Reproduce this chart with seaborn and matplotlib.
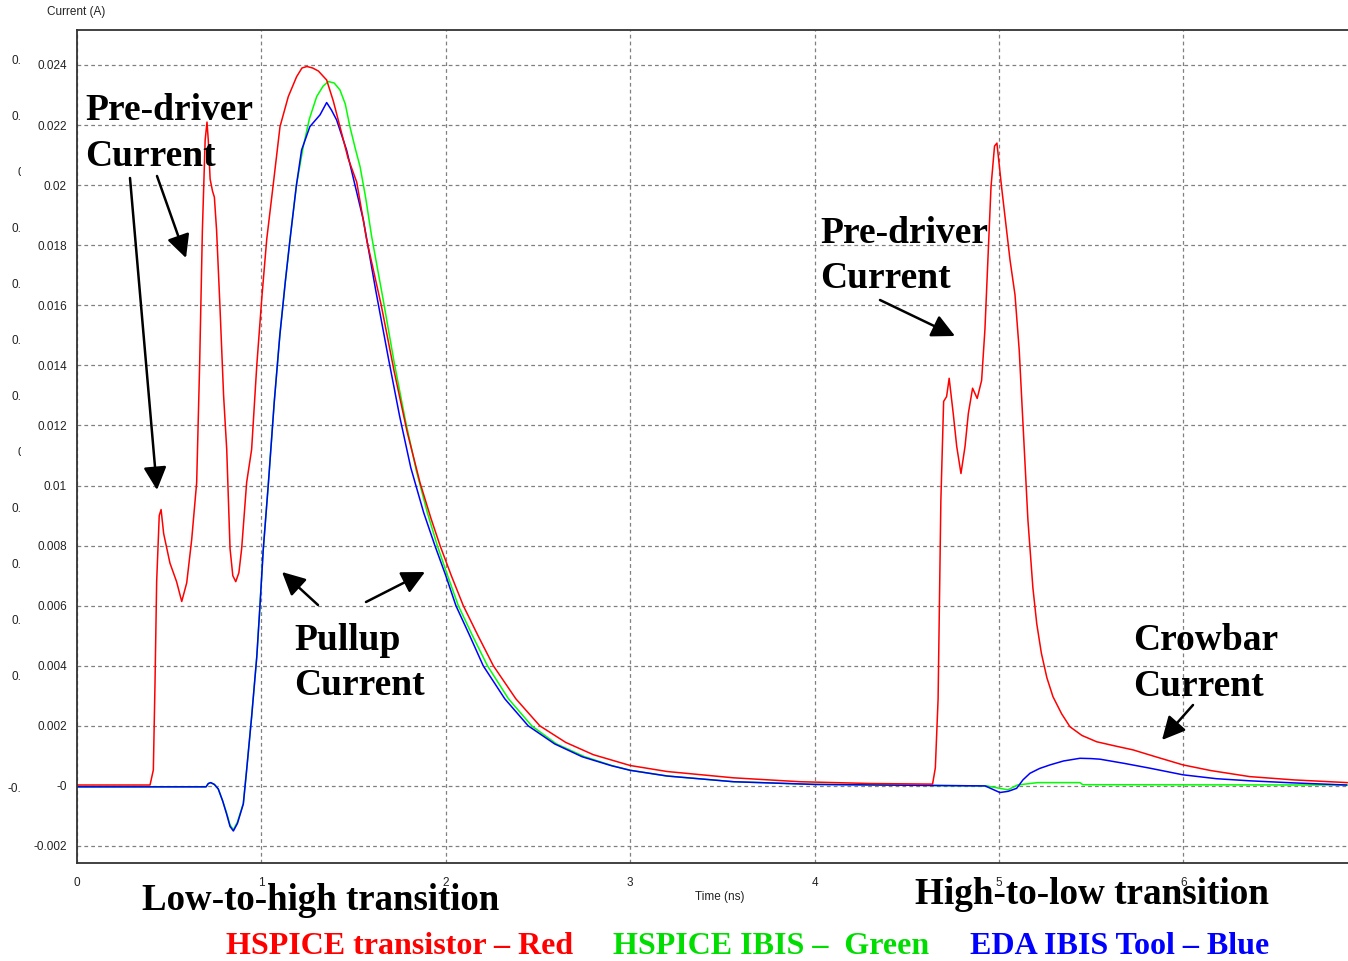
import matplotlib
matplotlib.use("Agg")
import matplotlib.pyplot as plt
import seaborn as sns
from matplotlib.transforms import Bbox, TransformedBbox

# HSPICE transistor (red)
red_t = [0.0, 0.396, 0.414, 0.423, 0.432, 0.446, 0.456, 0.470, 0.504, 0.540, 0.568,
         0.595, 0.622, 0.649, 0.665, 0.680, 0.695, 0.705, 0.712, 0.722, 0.735, 0.745,
         0.757, 0.775, 0.795, 0.812, 0.830, 0.845, 0.861, 0.878, 0.893, 0.920, 0.947,
         0.975, 1.003, 1.029, 1.065, 1.101, 1.146, 1.191, 1.22, 1.247, 1.278, 1.309,
         1.354, 1.39, 1.426, 1.47, 1.517, 1.571, 1.65, 1.72, 1.79, 1.86, 1.92, 1.969,
         2.03, 2.095, 2.175, 2.258, 2.38, 2.51, 2.65, 2.8, 3.0, 3.2, 3.56, 3.92, 4.3,
         4.64, 4.655, 4.67, 4.685, 4.70, 4.716, 4.73,
         4.752, 4.771, 4.794, 4.816, 4.834, 4.857, 4.882, 4.906, 4.924, 4.957, 4.976,
         4.989, 5.014, 5.06, 5.087, 5.11, 5.135, 5.157, 5.184, 5.205, 5.23, 5.26, 5.293,
         5.34, 5.385, 5.45, 5.53, 5.63, 5.727, 5.85, 5.998, 6.15, 6.36, 6.6, 6.89]
red_i = [0.00003, 0.00003, 0.00053, 0.0034, 0.0068, 0.0090, 0.0092, 0.0084, 0.00742, 0.0068, 0.00614,
         0.00676, 0.0082, 0.0101, 0.0140, 0.0185, 0.0215, 0.0221, 0.0215, 0.0202, 0.0198, 0.0196,
         0.0185, 0.0160, 0.0130, 0.0112, 0.0079, 0.0070, 0.0068, 0.0071, 0.0079, 0.0101, 0.0112,
         0.0140, 0.0163, 0.0182, 0.02006, 0.02195, 0.02295, 0.02361, 0.0239, 0.02395, 0.0239, 0.0238,
         0.0235, 0.0228, 0.02195, 0.0209, 0.0201, 0.01818, 0.0160, 0.0138, 0.0118, 0.0101, 0.0089, 0.0080,
         0.0070, 0.0060, 0.0050, 0.0040, 0.0029, 0.0020, 0.00145, 0.00104, 0.00068, 0.00048, 0.00027, 0.00014, 0.00008,
         0.00006, 0.0006, 0.0029, 0.0095, 0.0128, 0.01296, 0.01357,
         0.0124, 0.0113, 0.0104, 0.0113, 0.0124, 0.01324, 0.0129, 0.0135, 0.0152, 0.01995, 0.0213,
         0.0214, 0.01995, 0.01751, 0.01635, 0.0145, 0.0115, 0.00886, 0.0066, 0.0054, 0.00442, 0.0036, 0.00297,
         0.0024, 0.00197, 0.00168, 0.00147, 0.00133, 0.0012, 0.00097, 0.0007, 0.00051, 0.00031, 0.0002, 0.00011]

# HSPICE IBIS (green)
green_t = [0.0, 0.70, 0.712, 0.725, 0.745, 0.766, 0.790, 0.812, 0.830, 0.848, 0.870, 0.902,
           0.920, 0.947, 0.975, 0.992, 1.01, 1.038, 1.07, 1.10, 1.13, 1.155, 1.19, 1.227, 1.26,
           1.30, 1.335, 1.363, 1.395, 1.426, 1.455, 1.48, 1.51, 1.535, 1.565, 1.598, 1.66,
           1.72, 1.78, 1.84, 1.90, 1.954, 2.01, 2.068, 2.145, 2.226, 2.34, 2.466, 2.6, 2.75,
           2.9, 3.0, 3.2, 3.56, 4.0, 4.933, 5.049, 5.10, 5.21, 5.439, 5.455, 6.89]
green_i = [-0.00003, -0.00003, 0.00008, 0.00011, 0.00005, -0.0001, -0.0005, -0.00091, -0.0013, -0.00146, -0.0012, -0.00058,
           0.00053, 0.0023, 0.0043, 0.00597, 0.00786, 0.01008, 0.0128, 0.0150, 0.0168, 0.01818, 0.0200, 0.02128, 0.0222,
           0.02295, 0.0233, 0.02345, 0.0234, 0.02317, 0.0227, 0.02195, 0.0212, 0.02062, 0.0196, 0.01829, 0.0162,
           0.0141, 0.0122, 0.0105, 0.0091, 0.0080, 0.0070, 0.0060, 0.0050, 0.0040, 0.0029, 0.0020, 0.0014, 0.00098,
           0.00068, 0.00052, 0.00033, 0.00014, 0.00005, 0.0, -0.00013, 0.00003, 0.00011, 0.00011, 0.00004, 0.00003]

# EDA IBIS tool (blue)
blue_t = [0.0, 0.70, 0.712, 0.725, 0.745, 0.766, 0.790, 0.812, 0.830, 0.848, 0.870, 0.902,
          0.920, 0.947, 0.975, 0.992, 1.01, 1.038, 1.07, 1.10, 1.13, 1.155, 1.19, 1.218, 1.263,
          1.318, 1.354, 1.380, 1.408, 1.462, 1.553, 1.62, 1.69, 1.75, 1.81, 1.88, 1.941,
          2.0, 2.055, 2.13, 2.203, 2.32, 2.447, 2.59, 2.74, 2.9, 3.0, 3.2, 3.56, 4.0,
          4.925, 5.005, 5.05, 5.096, 5.13, 5.168, 5.22, 5.277, 5.35, 5.439, 5.50, 5.548,
          5.68, 5.819, 5.998, 6.18, 6.36, 6.6, 6.886]
blue_i = [-0.00003, -0.00003, 0.00008, 0.00011, 0.00005, -0.0001, -0.0005, -0.00095, -0.00135, -0.0015, -0.00125, -0.0006,
          0.00053, 0.0023, 0.0043, 0.00597, 0.00786, 0.01008, 0.0128, 0.0150, 0.0168, 0.01818, 0.0200, 0.02117, 0.02195,
          0.02234, 0.02275, 0.0225, 0.02217, 0.02117, 0.01884, 0.0165, 0.0142, 0.0123, 0.0106, 0.0091, 0.0080,
          0.0070, 0.0060, 0.0050, 0.0040, 0.0029, 0.0020, 0.0014, 0.00097, 0.00067, 0.00052, 0.00033, 0.00014, 0.00005,
          0.0, -0.00022, -0.00018, -0.00008, 0.0002, 0.00042, 0.00058, 0.0007, 0.00083, 0.00092, 0.00091, 0.00089,
          0.00075, 0.00059, 0.00037, 0.00024, 0.00017, 0.0001, 0.00003]

y_ticks = [0.024, 0.022, 0.02, 0.018, 0.016, 0.014, 0.012, 0.01, 0.008, 0.006, 0.004, 0.002, 0.0, -0.002]
y_labels = ["0.024", "0.022", "0.02", "0.018", "0.016", "0.014", "0.012", "0.01",
            "0.008", "0.006", "0.004", "0.002", "-0", "-0.002"]
x_ticks = [0, 1, 2, 3, 4, 5, 6]

W, H = 1348, 961

sns.set_style("white")
plt.rcParams['font.family'] = ['Liberation Sans', 'DejaVu Sans']

fig = plt.figure(figsize=(W / 100, H / 100), dpi=100)
ax = fig.add_axes([77 / W, 1 - 863 / H, (W - 77) / W, (863 - 30) / H])

sns.lineplot(x=green_t, y=green_i, color='#00ff00', lw=1.1, ax=ax, estimator=None, sort=False)
sns.lineplot(x=blue_t, y=blue_i, color='#0000ff', lw=1.1, ax=ax, estimator=None, sort=False)
sns.lineplot(x=red_t, y=red_i, color='#ff0000', lw=1.1, ax=ax, estimator=None, sort=False)

ax.set_xlim(0, 6.893)
ax.set_ylim(-0.002566, 0.025165)
ax.set_xticks(x_ticks)
ax.set_xticklabels([str(v) for v in x_ticks])
ax.set_yticks(y_ticks)
ax.set_yticklabels(y_labels)
ax.tick_params(axis='y', length=0, pad=7.2, labelsize=8.5, labelcolor='#222222')
ax.tick_params(axis='x', direction='in', length=3, width=0.8, color='#444444',
               pad=10, labelsize=8.5, labelcolor='#222222')
ax.grid(True, color='#808080', linestyle=(0, (3, 2.5)), lw=0.9)
for side in ['left', 'bottom', 'top']:
    ax.spines[side].set_color('#333333')
    ax.spines[side].set_linewidth(1.3)
ax.spines['right'].set_visible(False)
ax.set_xlabel('')
ax.set_ylabel('')


def px(x, y):
    return (x, H - y)


# axis titles
fig.text(47 / W, 1 - 12 / H, 'Current (A)', fontsize=8.5, color='#222222', va='center', ha='left')
fig.text(720 / W, 1 - 897 / H, 'Time (ns)', fontsize=8.5, color='#222222', va='center', ha='center')

# ghost labels clipped at the far left
clip = TransformedBbox(Bbox([[0, 0], [21 / W, 1]]), fig.transFigure)
for k, lab in enumerate(y_labels):
    if lab == "-0":
        continue
    t = fig.text(41 / W, 1 - (61 + 56 * k) / H, lab, fontsize=8.5, color='#222222',
                 ha='right', va='center')
    t.set_clip_box(clip)
    t.set_clip_on(True)

serif = dict(family=['Liberation Serif', 'DejaVu Serif'], weight='bold')


def label(x, y, s, size=27, color='black'):
    fig.text(x / W, 1 - y / H, s, fontsize=size, color=color, ha='left', va='baseline', **serif)


label(85, 120, 'Pre-driver')
label(85, 166, 'Current')
label(820, 243, 'Pre-driver')
label(820, 288, 'Current')
label(294, 650, 'Pullup')
label(294, 695, 'Current')
label(1133, 650, 'Crowbar')
label(1133, 696, 'Current')
label(142, 910, 'Low-to-high transition', size=26.6)
label(915, 904, 'High-to-low transition', size=26.7)
label(226, 954, 'HSPICE transistor \u2013 Red', size=23, color='#ff0000')
label(613, 954, 'HSPICE IBIS \u2013  Green', size=23, color='#00dd00')
label(970, 954, 'EDA IBIS Tool \u2013 Blue', size=23, color='#0000ff')

arrows = [((130, 178), (157, 490)),
          ((157, 176), (186, 258)),
          ((880, 300), (955, 336)),
          ((318, 605), (282, 572)),
          ((366, 602), (425, 572)),
          ((1193, 705), (1162, 740))]
for start, end in arrows:
    ax.annotate('', xy=px(*end), xytext=px(*start), xycoords='figure pixels',
                textcoords='figure pixels',
                arrowprops=dict(arrowstyle='-|>,head_length=1.0,head_width=0.5',
                                color='black', lw=1.8, mutation_scale=14,
                                shrinkA=0, shrinkB=0))

fig.savefig('out.png', dpi=100)
